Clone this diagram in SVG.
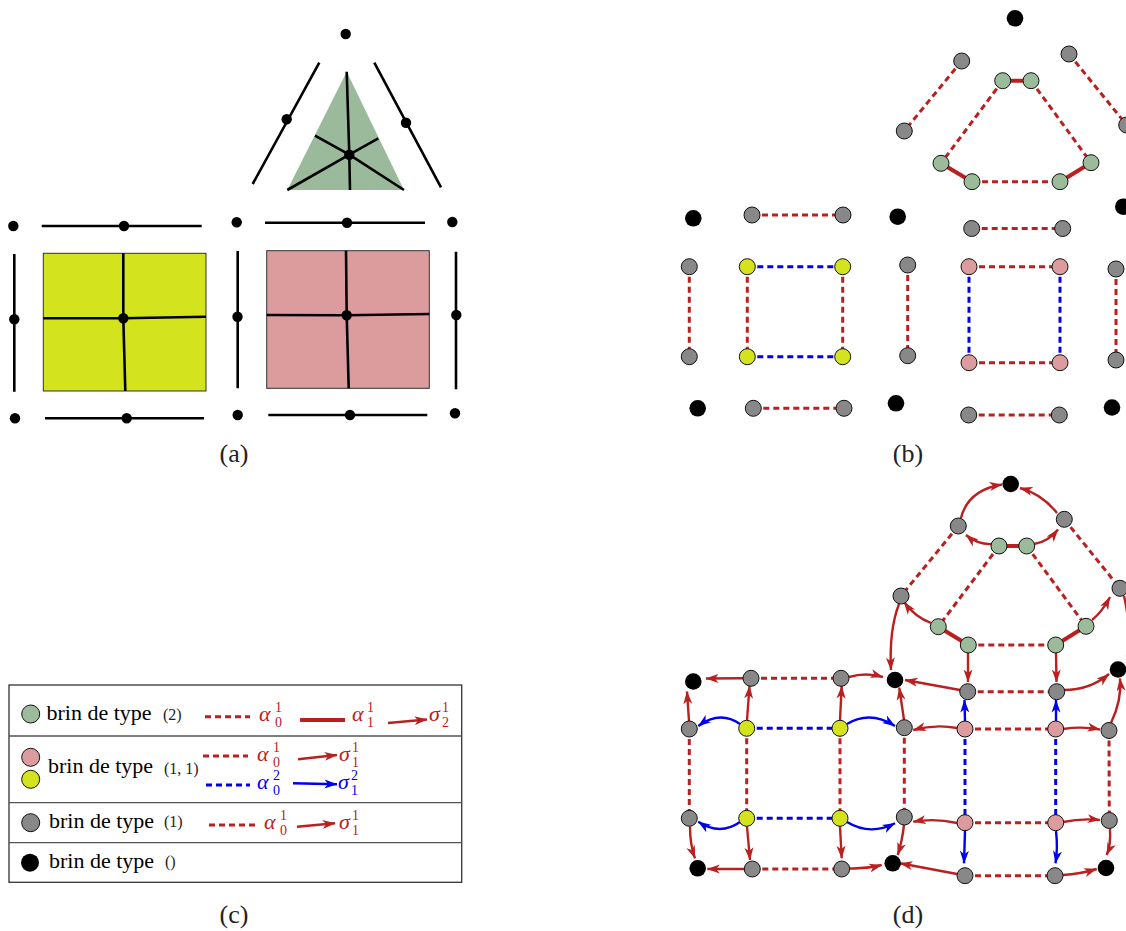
<svg xmlns="http://www.w3.org/2000/svg" width="1126" height="931" viewBox="0 0 1126 931">
<defs>
<style>
.ln{stroke:#000;stroke-width:2.6;fill:none}
.dt{fill:#000}
.rd{stroke:#BA2020;stroke-width:3;stroke-dasharray:6,4;fill:none}
.bd{stroke:#0000EE;stroke-width:3;stroke-dasharray:6,4;fill:none}
.rs{stroke:#BA2020;stroke-width:4;fill:none}
.ra{stroke:#BA2020;stroke-width:2.4;fill:none;marker-end:url(#ar)}
.ba{stroke:#0000EE;stroke-width:2.4;fill:none;marker-end:url(#ab)}
.g{fill:#888;stroke:#111;stroke-width:1}
.gr{fill:#9BBB9B;stroke:#111;stroke-width:1}
.y{fill:#D3E31E;stroke:#111;stroke-width:1}
.p{fill:#DC9C9E;stroke:#111;stroke-width:1}
.k{fill:#000}
.lbl{font-family:"Liberation Serif","DejaVu Serif",serif;font-size:26px;fill:#222}
.lt{font-family:"Liberation Serif","DejaVu Serif",serif;font-size:22px;fill:#000}
.ls{font-family:"Liberation Serif","DejaVu Serif",serif;font-size:16px;fill:#222}
.m{font-family:"Liberation Serif","DejaVu Serif",serif;font-style:italic;font-size:22px}
.s{font-family:"Liberation Serif","DejaVu Serif",serif;font-size:14px}
.red{fill:#BA2020}
.blue{fill:#0000EE}
</style>
<marker id="ar" viewBox="0 0 13 10" refX="12.5" refY="5" markerWidth="13" markerHeight="10" markerUnits="userSpaceOnUse" orient="auto"><path d="M0,0.5 L13,5 L0,9.5 L3.5,5 Z" fill="#BA2020"/></marker>
<marker id="ab" viewBox="0 0 13 10" refX="12.5" refY="5" markerWidth="13" markerHeight="10" markerUnits="userSpaceOnUse" orient="auto"><path d="M0,0.5 L13,5 L0,9.5 L3.5,5 Z" fill="#0000EE"/></marker>
</defs>
<rect width="1126" height="931" fill="#fff"/>

<!-- Panel (a) -->
<g id="a-triangle">
<polygon points="346.7,71.7 287.3,190 404,190" fill="#9BBA9B"/>
<path class="ln" d="M349.3,154.7 L346.7,71.7 M349.3,154.7 L350,190 M349.3,154.7 L315,135.7 M349.3,154.7 L378.3,138.3 M349.3,154.7 L287.3,190 M349.3,154.7 L404,190"/>
<circle class="dt" cx="349.3" cy="154.7" r="5.2"/>
<circle class="dt" cx="345.7" cy="34" r="5.2"/>
<path class="ln" d="M319.3,62.7 L252.7,184 M374.3,62.7 L441,187.3"/>
<circle class="dt" cx="286.7" cy="119.3" r="5.2"/>
<circle class="dt" cx="406" cy="122.7" r="5.2"/>
<path class="ln" d="M265,222.7 L425,222.7"/>
<circle class="dt" cx="347" cy="222.7" r="5.2"/>
<circle class="dt" cx="236.7" cy="222.3" r="5.2"/>
<circle class="dt" cx="452.3" cy="222" r="5.2"/>
</g>
<g id="a-yellow">
<rect x="43.3" y="253.3" width="162.7" height="137.7" fill="#D3E31E" stroke="#333" stroke-width="1"/>
<path class="ln" d="M123.3,253.3 L123.3,318.3 L125.3,391 M43.3,318.3 L123.3,318.3 L206,316.7"/>
<circle class="dt" cx="123.3" cy="318.3" r="5.2"/>
<path class="ln" d="M41.7,226 L201.7,226 M14.3,254 L14.3,391.7 M45,418.3 L204,418.3"/>
<circle class="dt" cx="124" cy="226" r="5.2"/>
<circle class="dt" cx="13.3" cy="226" r="5.2"/>
<circle class="dt" cx="14.3" cy="319.3" r="5.2"/>
<circle class="dt" cx="15" cy="418.3" r="5.2"/>
<circle class="dt" cx="126.7" cy="418.3" r="5.2"/>
</g>
<g id="a-pink">
<rect x="266.7" y="250.7" width="162.6" height="137.6" fill="#DC9C9E" stroke="#333" stroke-width="1"/>
<path class="ln" d="M346,250.7 L346.7,315.3 L348.7,388.3 M266.7,315 L346.7,315.3 L429.3,314"/>
<circle class="dt" cx="346.7" cy="315.3" r="5.2"/>
<path class="ln" d="M237.7,251 L237.7,388.3 M456,251.7 L456,389.3 M268.3,415 L427.3,415"/>
<circle class="dt" cx="237.5" cy="316.7" r="5.2"/>
<circle class="dt" cx="456.3" cy="315" r="5.2"/>
<circle class="dt" cx="237.7" cy="415" r="5.2"/>
<circle class="dt" cx="350" cy="415" r="5.2"/>
<circle class="dt" cx="455" cy="413.3" r="5.2"/>
</g>
<text class="lbl" x="234" y="462" text-anchor="middle">(a)</text>

<!-- Panel (b) -->
<g id="b-connectors">
<path class="rd" d="M961.7,61 L904.3,131 M1069,54 L1126.7,125 M1002.7,80.7 L941,163.3 M1031,80.7 L1091,162.7 M972,181.7 L1060,181.7"/>
<path class="rs" d="M1002.7,80.7 L1031,80.7 M941,163.3 L972,181.7 M1060,181.7 L1091,162.7"/>
<path class="rd" d="M752,215 L843,215 M971.7,228.5 L1062.7,228.5 M689.3,266.7 L689.3,356.7 M747.3,266.7 L747.3,356.7 M842.7,266.7 L842.7,356.7 M907.7,265 L907.7,355.7 M969,266.7 L1060,266.7 M969,362.7 L1060,362.7 M1116,269 L1116,360 M753.3,408.3 L844,408.3 M968.7,415 L1059.3,415"/>
<path class="bd" d="M747.3,266.7 L842.7,266.7 M747.3,356.7 L842.7,356.7 M969,266.7 L969,362.7 M1060,266.7 L1060,362.7"/>
</g>
<g id="b-nodes">
<circle class="k" cx="1015" cy="18.3" r="8.3"/>
<circle class="g" cx="961.7" cy="61" r="8"/>
<circle class="g" cx="904.3" cy="131" r="8"/>
<circle class="g" cx="1069" cy="54" r="8"/>
<circle class="g" cx="1126.7" cy="125" r="8"/>
<circle class="gr" cx="1002.7" cy="80.7" r="8"/>
<circle class="gr" cx="1031" cy="80.7" r="8"/>
<circle class="gr" cx="941" cy="163.3" r="8"/>
<circle class="gr" cx="972" cy="181.7" r="8"/>
<circle class="gr" cx="1060" cy="181.7" r="8"/>
<circle class="gr" cx="1091" cy="162.7" r="8"/>
<circle class="k" cx="693.3" cy="218.3" r="8.3"/>
<circle class="g" cx="752" cy="215" r="8"/>
<circle class="g" cx="843" cy="215" r="8"/>
<circle class="k" cx="897.7" cy="216.7" r="8.3"/>
<circle class="g" cx="971.7" cy="228.5" r="8"/>
<circle class="g" cx="1062.7" cy="228.5" r="8"/>
<circle class="k" cx="1123.3" cy="206.7" r="8.3"/>
<circle class="g" cx="689.3" cy="266.7" r="8"/>
<circle class="g" cx="689.3" cy="356.7" r="8"/>
<circle class="y" cx="747.3" cy="266.7" r="8"/>
<circle class="y" cx="842.7" cy="266.7" r="8"/>
<circle class="y" cx="747.3" cy="356.7" r="8"/>
<circle class="y" cx="842.7" cy="356.7" r="8"/>
<circle class="g" cx="907.7" cy="265" r="8"/>
<circle class="g" cx="907.7" cy="355.7" r="8"/>
<circle class="p" cx="969" cy="266.7" r="8"/>
<circle class="p" cx="1060" cy="266.7" r="8"/>
<circle class="p" cx="969" cy="362.7" r="8"/>
<circle class="p" cx="1060" cy="362.7" r="8"/>
<circle class="g" cx="1116" cy="269" r="8"/>
<circle class="g" cx="1116" cy="360" r="8"/>
<circle class="k" cx="697.7" cy="408.3" r="8.3"/>
<circle class="g" cx="753.3" cy="408.3" r="8"/>
<circle class="g" cx="844" cy="408.3" r="8"/>
<circle class="k" cx="896" cy="403.3" r="8.3"/>
<circle class="g" cx="968.7" cy="415" r="8"/>
<circle class="g" cx="1059.3" cy="415" r="8"/>
<circle class="k" cx="1112" cy="407.5" r="8.3"/>
</g>
<text class="lbl" x="908" y="462" text-anchor="middle">(b)</text>

<!-- Panel (c) legend -->
<g id="legend">
<rect x="9" y="685" width="452.7" height="197.3" fill="none" stroke="#333" stroke-width="1.3"/>
<path d="M9,736 L461.7,736 M9,802.7 L461.7,802.7 M9,842.7 L461.7,842.7" stroke="#555" stroke-width="1.3"/>
<circle class="gr" cx="30.7" cy="714" r="9"/>
<text class="lt" x="46.5" y="720">brin de type</text>
<text class="ls" x="163" y="720">(2)</text>
<path class="rd" d="M205,716.7 L250,716.7"/>
<text class="m red" x="259" y="721">α</text><text class="s red" x="275" y="712">1</text><text class="s red" x="275" y="727">0</text>
<path class="rs" d="M300,720 L345,720"/>
<text class="m red" x="352" y="721">α</text><text class="s red" x="367" y="712">1</text><text class="s red" x="367" y="727">1</text>
<path class="ra" d="M388,723 L427,719.5"/>
<text class="m red" x="429" y="721">σ</text><text class="s red" x="442" y="712">1</text><text class="s red" x="442" y="727">2</text>

<circle class="p" cx="30.7" cy="757.3" r="9"/>
<circle class="y" cx="30.7" cy="779.3" r="9"/>
<text class="lt" x="48" y="773">brin de type</text>
<text class="ls" x="164" y="774">(1, 1)</text>
<path class="rd" d="M203,756 L248,756"/>
<text class="m red" x="257" y="761">α</text><text class="s red" x="273" y="752">1</text><text class="s red" x="273" y="767">0</text>
<path class="ra" d="M298,759.3 L337,755"/>
<text class="m red" x="339" y="761">σ</text><text class="s red" x="352" y="752">1</text><text class="s red" x="352" y="767">1</text>
<path class="bd" d="M206,785 L250,785"/>
<text class="m blue" x="257" y="789">α</text><text class="s blue" x="273" y="780">2</text><text class="s blue" x="273" y="795">0</text>
<path class="ba" d="M293,783.3 L337,784.3"/>
<text class="m blue" x="338" y="789">σ</text><text class="s blue" x="351" y="780">2</text><text class="s blue" x="351" y="795">1</text>

<circle class="g" cx="30.7" cy="822.7" r="9"/>
<text class="lt" x="49" y="828">brin de type</text>
<text class="ls" x="164" y="827">(1)</text>
<path class="rd" d="M209,825 L255,825"/>
<text class="m red" x="264" y="829">α</text><text class="s red" x="280" y="820">1</text><text class="s red" x="280" y="835">0</text>
<path class="ra" d="M297,826.7 L335,823.3"/>
<text class="m red" x="339" y="829">σ</text><text class="s red" x="352" y="820">1</text><text class="s red" x="352" y="835">1</text>

<circle class="k" cx="30" cy="862.7" r="9"/>
<text class="lt" x="49" y="868">brin de type</text>
<text class="ls" x="165" y="867">()</text>
</g>
<text class="lbl" x="234" y="923" text-anchor="middle">(c)</text>

<!-- Panel (d) -->
<g id="d-connectors">
<path class="rd" d="M958.3,526 L901,596 M1064.3,519.3 L1120,588.3 M999,546 L938.3,626.7 M1026.7,546 L1086,626.3 M968.3,645 L1055.7,645 M751,678.3 L841,678.3 M967.7,691.7 L1056.7,691.7 M689.3,729 L689.3,818.3 M746.7,728.3 L746.7,818.3 M840,728.3 L840,818.3 M904.3,727.7 L904.3,817 M1109,730.5 L1109.3,820.5 M965,729 L1055.7,729 M965,822.7 L1055.7,822.7 M752.3,869 L841.7,869 M965,875.7 L1055,875.7"/>
<path class="bd" d="M746.7,728.3 L840,728.3 M746.7,818.3 L840,818.3 M965,729 L965,822.7 M1055.7,729 L1055.7,822.7"/>
<path class="rs" d="M999,546 L1026.7,546 M938.3,626.7 L968.3,645 M1055.7,645 L1086,626.3"/>
<path class="ra" d="M961,518 Q968,490 1002,484.5"/>
<path class="ra" d="M1057,513 Q1042,494 1020,488"/>
<path class="ra" d="M993,544 Q978,545 966,535"/>
<path class="ra" d="M1034,544 Q1048,542 1058,529.5"/>
<path class="ra" d="M931,623 Q915,617 904,602"/>
<path class="ra" d="M1092,620 Q1102,612 1110,597"/>
<path class="ra" d="M899,604 Q889,630 891,670"/>
<path class="ra" d="M968,653 L968,682"/>
<path class="ra" d="M1056,653 L1056.5,682"/>
<path class="ra" d="M960,690 L905,680"/>
<path class="ra" d="M1064,690 Q1090,690 1109,674"/>
<path stroke="#BA2020" stroke-width="2.4" fill="none" d="M1124,596 Q1131,625 1127,656"/>
<path class="ra" d="M743,678.3 L706,678.5"/>
<path class="ra" d="M849,677 Q866,672 883,677"/>
<path class="ra" d="M747,720 L749.5,686"/>
<path class="ra" d="M689,721 L687,691.5"/>
<path class="ra" d="M840,720 L841.7,686"/>
<path class="ra" d="M904,720 L899.3,687.7"/>
<path class="ra" d="M957,728 Q935,724 913.3,730"/>
<path class="ra" d="M1063,729 Q1082,726 1100,729.5"/>
<path class="ra" d="M1111,723 Q1122,700 1120,678.5"/>
<path class="ra" d="M957,823 Q935,818 913.3,821.7"/>
<path class="ra" d="M1063,822 Q1082,818 1100,820"/>
<path class="ra" d="M690,826.5 Q690,845 695,858.3"/>
<path class="ra" d="M747,826.5 L750,860"/>
<path class="ra" d="M744,869 L707.3,869"/>
<path class="ra" d="M840,826.5 L841.7,858.3"/>
<path class="ra" d="M850,868.5 Q866,869 881.7,865"/>
<path class="ra" d="M904,825 Q902,842 897.7,855"/>
<path class="ra" d="M957,874 L900,863.3"/>
<path class="ra" d="M1063,875 Q1080,874 1096.7,869"/>
<path class="ra" d="M1110,829 Q1111,845 1106.7,855"/>
<path class="ba" d="M740,724 Q720,710 698.3,726"/>
<path class="ba" d="M847,724 Q870,710 895,726"/>
<path class="ba" d="M965,721 L964.5,700"/>
<path class="ba" d="M1056,721 L1056,700"/>
<path class="ba" d="M740,822 Q720,836 698.3,821.7"/>
<path class="ba" d="M847,822 Q870,836 895,823.3"/>
<path class="ba" d="M965,831 L964,863.3"/>
<path class="ba" d="M1056,831 Q1058,848 1055.5,863.3"/>
</g>
<g id="d-nodes">
<circle class="k" cx="1010.7" cy="484" r="8.3"/>
<circle class="g" cx="958.3" cy="526" r="8"/>
<circle class="g" cx="1064.3" cy="519.3" r="8"/>
<circle class="gr" cx="999" cy="546" r="8"/>
<circle class="gr" cx="1026.7" cy="546" r="8"/>
<circle class="g" cx="901" cy="596" r="8"/>
<circle class="g" cx="1120" cy="588.3" r="8"/>
<circle class="gr" cx="938.3" cy="626.7" r="8"/>
<circle class="gr" cx="1086" cy="626.3" r="8"/>
<circle class="gr" cx="968.3" cy="645" r="8"/>
<circle class="gr" cx="1055.7" cy="645" r="8"/>
<circle class="k" cx="895" cy="680" r="8.3"/>
<circle class="k" cx="1118" cy="669.5" r="8.3"/>
<circle class="g" cx="967.7" cy="691.7" r="8"/>
<circle class="g" cx="1056.7" cy="691.7" r="8"/>
<circle class="k" cx="693.3" cy="681.5" r="8.3"/>
<circle class="g" cx="751" cy="678.3" r="8"/>
<circle class="g" cx="841" cy="678.3" r="8"/>
<circle class="g" cx="689.3" cy="729" r="8"/>
<circle class="y" cx="746.7" cy="728.3" r="8"/>
<circle class="y" cx="840" cy="728.3" r="8"/>
<circle class="g" cx="904.3" cy="727.7" r="8"/>
<circle class="p" cx="965" cy="729" r="8"/>
<circle class="p" cx="1055.7" cy="729" r="8"/>
<circle class="g" cx="1109" cy="730.5" r="8"/>
<circle class="g" cx="689.3" cy="818.3" r="8"/>
<circle class="y" cx="746.7" cy="818.3" r="8"/>
<circle class="y" cx="840" cy="818.3" r="8"/>
<circle class="g" cx="904.3" cy="817" r="8"/>
<circle class="p" cx="965" cy="822.7" r="8"/>
<circle class="p" cx="1055.7" cy="822.7" r="8"/>
<circle class="g" cx="1109.3" cy="820.5" r="8"/>
<circle class="k" cx="697.7" cy="868.3" r="8.3"/>
<circle class="g" cx="752.3" cy="869" r="8"/>
<circle class="g" cx="841.7" cy="869" r="8"/>
<circle class="k" cx="892.7" cy="863.3" r="8.3"/>
<circle class="g" cx="965" cy="875.7" r="8"/>
<circle class="g" cx="1055" cy="875.7" r="8"/>
<circle class="k" cx="1106" cy="868" r="8.3"/>
</g>
<text class="lbl" x="908" y="923" text-anchor="middle">(d)</text>
</svg>
